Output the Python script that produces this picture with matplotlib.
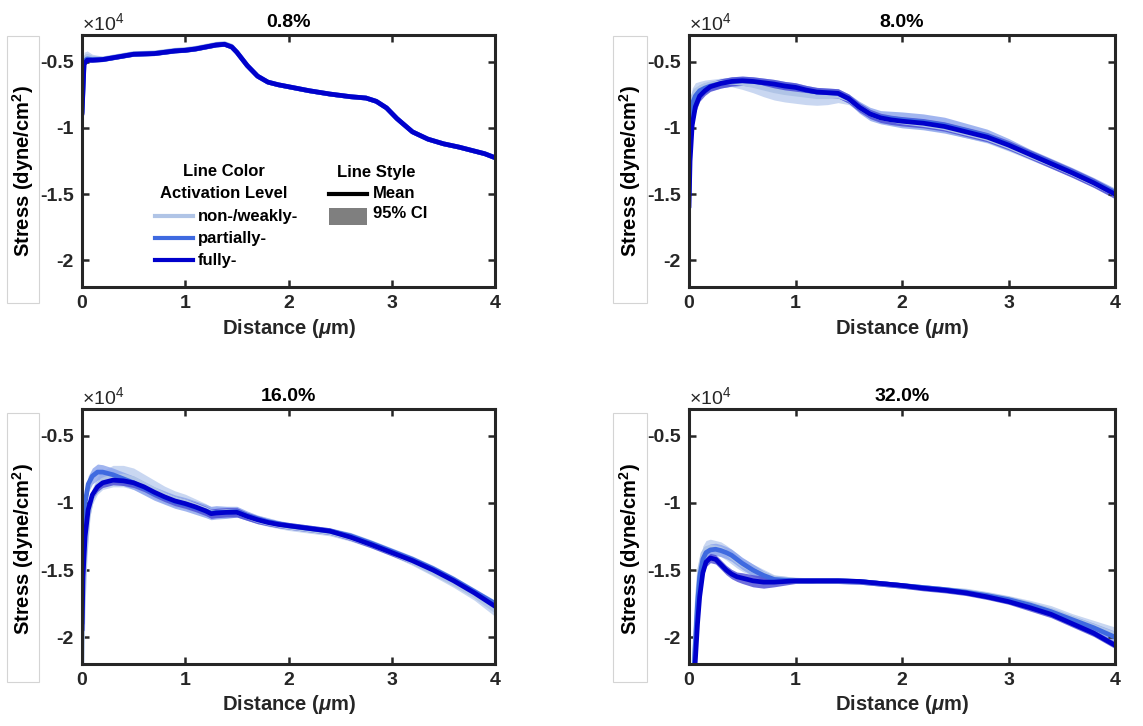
import matplotlib
matplotlib.use("Agg")
import matplotlib.pyplot as plt
from matplotlib.patches import Rectangle
from matplotlib.lines import Line2D
from matplotlib.ticker import FixedLocator, FixedFormatter

plt.rcParams['font.family'] = ['Liberation Sans', 'DejaVu Sans']
plt.rcParams['font.weight'] = 'bold'
plt.rcParams['mathtext.fontset'] = 'custom'
plt.rcParams['mathtext.rm'] = 'Liberation Sans'
plt.rcParams['mathtext.it'] = 'Liberation Sans:italic:bold'
plt.rcParams['mathtext.bf'] = 'Liberation Sans:bold'
plt.rcParams['mathtext.default'] = 'regular'

# ---------------- data (stress in units of 1e4 dyne/cm^2) ----------------
titles = ["0.8%", "8.0%", "16.0%", "32.0%"]
levels = ["non-/weakly-", "partially-", "fully-"]
level_colors = ["#b0c4e6", "#3f6ae0", "#0000cc"]
ci_colors = ["#bccdee", "#8aa3ec", "#4a4ad4"]

# Panel 0.8%
x1 = [0, 0.02, 0.05, 0.1, 0.2, 0.35, 0.5, 0.7, 0.9, 1.0, 1.1, 1.2, 1.3, 1.38, 1.45, 1.5,
      1.6, 1.7, 1.8, 1.9, 2.0, 2.2, 2.4, 2.6, 2.75, 2.85, 2.95, 3.05, 3.2, 3.35, 3.5, 3.65,
      3.8, 3.9, 4.0]
m1_weak = [-0.88, -0.48, -0.46, -0.475, -0.48, -0.46, -0.44, -0.435, -0.415, -0.41, -0.40,
           -0.385, -0.37, -0.365, -0.385, -0.43, -0.53, -0.61, -0.655, -0.675, -0.69, -0.72,
           -0.745, -0.765, -0.775, -0.80, -0.85, -0.93, -1.03, -1.085, -1.12, -1.145, -1.175,
           -1.195, -1.225]
m1_part = [-0.89, -0.50, -0.48, -0.485, -0.485, -0.465, -0.445, -0.44, -0.42, -0.415, -0.405,
           -0.39, -0.375, -0.37, -0.39, -0.43, -0.53, -0.61, -0.655, -0.675, -0.69, -0.72,
           -0.745, -0.765, -0.775, -0.80, -0.85, -0.93, -1.03, -1.085, -1.12, -1.145, -1.175,
           -1.195, -1.225]
m1_full = [-0.90, -0.52, -0.49, -0.49, -0.485, -0.465, -0.445, -0.44, -0.42, -0.415, -0.405,
           -0.39, -0.375, -0.37, -0.39, -0.43, -0.53, -0.61, -0.655, -0.675, -0.69, -0.72,
           -0.745, -0.765, -0.775, -0.80, -0.85, -0.93, -1.03, -1.085, -1.12, -1.145, -1.175,
           -1.195, -1.225]
c1_weak = [0.04, 0.05, 0.04, 0.03, 0.02, 0.02, 0.02, 0.02, 0.02, 0.02, 0.02, 0.02, 0.02, 0.02,
           0.02, 0.02, 0.02, 0.02, 0.015, 0.015, 0.015, 0.015, 0.015, 0.015, 0.015, 0.015,
           0.015, 0.015, 0.015, 0.015, 0.015, 0.015, 0.015, 0.015, 0.015]
c1_part = [0.02] * 4 + [0.015] * 31
c1_full = [0.015] * 35

# Panel 8.0%
x2 = [0, 0.01, 0.03, 0.06, 0.1, 0.15, 0.2, 0.3, 0.4, 0.5, 0.6, 0.7, 0.8, 0.9, 1.0, 1.1, 1.2,
      1.3, 1.4, 1.5, 1.6, 1.7, 1.8, 1.9, 2.0, 2.2, 2.4, 2.6, 2.8, 3.0, 3.2, 3.4, 3.6, 3.8, 4.0]
m2_weak = [-1.40, -0.95, -0.78, -0.72, -0.70, -0.68, -0.67, -0.66, -0.655, -0.665, -0.68,
           -0.70, -0.72, -0.735, -0.745, -0.755, -0.765, -0.765, -0.76, -0.785, -0.845, -0.895,
           -0.925, -0.94, -0.955, -0.975, -1.0, -1.04, -1.08, -1.14, -1.21, -1.275, -1.345,
           -1.42, -1.50]
m2_part = [-1.50, -1.00, -0.82, -0.76, -0.72, -0.70, -0.685, -0.665, -0.65, -0.645, -0.65,
           -0.66, -0.67, -0.685, -0.695, -0.715, -0.73, -0.735, -0.74, -0.78, -0.845, -0.895,
           -0.92, -0.93, -0.94, -0.955, -0.98, -1.02, -1.06, -1.125, -1.195, -1.265,
           -1.335, -1.41, -1.49]
m2_full = [-1.60, -1.25, -0.98, -0.84, -0.76, -0.72, -0.69, -0.665, -0.65, -0.645, -0.65,
           -0.66, -0.67, -0.685, -0.695, -0.715, -0.73, -0.735, -0.74, -0.78, -0.845, -0.895,
           -0.925, -0.94, -0.95, -0.965, -0.99, -1.03, -1.07, -1.13, -1.20, -1.27, -1.34,
           -1.415, -1.50]
c2_weak = [0.10, 0.10, 0.08, 0.06, 0.05, 0.04, 0.035, 0.035, 0.035, 0.045, 0.055, 0.065, 0.07,
           0.07, 0.07, 0.07, 0.065, 0.06, 0.05, 0.04, 0.035, 0.035, 0.035, 0.035, 0.035, 0.035,
           0.035, 0.035, 0.035, 0.035, 0.03, 0.03, 0.025, 0.025, 0.03]
c2_part = [0.08, 0.08, 0.06, 0.05, 0.045, 0.04, 0.035, 0.035, 0.035, 0.035, 0.035, 0.035,
           0.035, 0.035, 0.035, 0.035, 0.035, 0.035, 0.035, 0.035, 0.045, 0.05, 0.05, 0.055,
           0.06, 0.06, 0.06, 0.055, 0.05, 0.045, 0.035, 0.035, 0.035, 0.035, 0.035]
c2_full = [0.06, 0.06, 0.05, 0.045, 0.04, 0.035, 0.035, 0.035, 0.035, 0.035, 0.035, 0.035,
           0.035, 0.035, 0.035, 0.035, 0.035, 0.035, 0.035, 0.035, 0.035, 0.035, 0.035, 0.035,
           0.035, 0.035, 0.035, 0.035, 0.035, 0.035, 0.035, 0.035, 0.035, 0.035, 0.035]

# Panel 16.0%
x3 = [0, 0.01, 0.03, 0.06, 0.1, 0.15, 0.2, 0.3, 0.4, 0.5, 0.6, 0.7, 0.8, 0.9, 1.0, 1.1, 1.2,
      1.25, 1.3, 1.4, 1.5, 1.6, 1.7, 1.8, 1.9, 2.0, 2.2, 2.4, 2.6, 2.8, 3.0, 3.2, 3.4, 3.6,
      3.8, 4.0]
m3_weak = [-2.20, -1.80, -1.40, -1.10, -0.95, -0.87, -0.83, -0.80, -0.80, -0.82, -0.86,
           -0.90, -0.94, -0.97, -0.99, -1.02, -1.05, -1.07, -1.07, -1.065, -1.07, -1.10,
           -1.13, -1.15, -1.165, -1.18, -1.20, -1.22, -1.26, -1.31, -1.37, -1.44, -1.52,
           -1.60, -1.69, -1.80]
m3_part = [-1.90, -1.30, -1.00, -0.86, -0.80, -0.77, -0.77, -0.79, -0.82, -0.85, -0.89,
           -0.93, -0.96, -0.99, -1.01, -1.035, -1.06, -1.075, -1.07, -1.07, -1.065, -1.095,
           -1.12, -1.14, -1.155, -1.17, -1.19, -1.21, -1.245, -1.30, -1.36, -1.42, -1.49,
           -1.57, -1.66, -1.75]
m3_full = [-1.95, -1.55, -1.25, -1.05, -0.94, -0.88, -0.85, -0.83, -0.835, -0.85, -0.88,
           -0.92, -0.955, -0.985, -1.005, -1.03, -1.06, -1.08, -1.075, -1.07, -1.07, -1.10,
           -1.125, -1.145, -1.16, -1.17, -1.19, -1.21, -1.255, -1.31, -1.37, -1.43, -1.50,
           -1.58, -1.67, -1.77]
c3_weak = [0.05, 0.06, 0.06, 0.06, 0.06, 0.065, 0.07, 0.08, 0.08, 0.08, 0.075, 0.07, 0.065,
           0.06, 0.055, 0.05, 0.045, 0.04, 0.04, 0.035, 0.03, 0.03, 0.025, 0.025, 0.025,
           0.025, 0.025, 0.025, 0.025, 0.025, 0.025, 0.025, 0.025, 0.03, 0.035, 0.045]
c3_part = [0.06, 0.06, 0.06, 0.06, 0.06, 0.06, 0.055, 0.05, 0.05, 0.05, 0.05, 0.05, 0.05,
           0.05, 0.05, 0.05, 0.05, 0.05, 0.05, 0.045, 0.04, 0.035, 0.03, 0.03, 0.025, 0.025,
           0.025, 0.025, 0.025, 0.025, 0.025, 0.025, 0.025, 0.025, 0.025, 0.025]
c3_full = [0.04, 0.04, 0.04, 0.04, 0.035, 0.035, 0.035, 0.035, 0.035, 0.035, 0.035, 0.035,
           0.035, 0.035, 0.035, 0.035, 0.035, 0.035, 0.035, 0.035, 0.035, 0.03, 0.03, 0.025,
           0.025, 0.025, 0.025, 0.025, 0.025, 0.025, 0.025, 0.025, 0.025, 0.025, 0.025, 0.025]

# Panel 32.0%
x4 = [0.02, 0.05, 0.08, 0.1, 0.13, 0.16, 0.2, 0.25, 0.3, 0.35, 0.4, 0.45, 0.5, 0.6, 0.7, 0.8,
      1.0, 1.2, 1.4, 1.6, 1.8, 2.0, 2.2, 2.4, 2.6, 2.8, 3.0, 3.2, 3.4, 3.6, 3.8, 4.0]
m4_weak = [-2.80, -2.15, -1.70, -1.50, -1.38, -1.34, -1.33, -1.335, -1.345, -1.37, -1.40,
           -1.43, -1.46, -1.50, -1.53, -1.56, -1.575, -1.58, -1.58, -1.585, -1.60, -1.615,
           -1.63, -1.645, -1.66, -1.685, -1.715, -1.755, -1.80, -1.86, -1.92, -1.98]
m4_part = [-2.80, -2.20, -1.75, -1.55, -1.42, -1.37, -1.35, -1.345, -1.355, -1.37, -1.39,
           -1.42, -1.45, -1.50, -1.54, -1.57, -1.58, -1.58, -1.58, -1.585, -1.60, -1.615,
           -1.63, -1.645, -1.665, -1.69, -1.72, -1.76, -1.81, -1.87, -1.93, -2.00]
m4_full = [-2.80, -2.30, -1.90, -1.70, -1.52, -1.44, -1.41, -1.42, -1.46, -1.50, -1.53,
           -1.55, -1.56, -1.58, -1.59, -1.59, -1.58, -1.58, -1.58, -1.585, -1.60, -1.615,
           -1.635, -1.65, -1.67, -1.70, -1.735, -1.78, -1.83, -1.90, -1.97, -2.06]
c4_weak = [0.08, 0.08, 0.07, 0.06, 0.06, 0.06, 0.06, 0.055, 0.055, 0.055, 0.055, 0.055, 0.05,
           0.045, 0.035, 0.025, 0.02, 0.02, 0.02, 0.02, 0.02, 0.02, 0.02, 0.02, 0.025,
           0.025, 0.025, 0.03, 0.035, 0.035, 0.045, 0.055]
c4_part = [0.06, 0.06, 0.05, 0.05, 0.045, 0.045, 0.045, 0.045, 0.045, 0.045, 0.045, 0.045,
           0.045, 0.045, 0.035, 0.025, 0.02, 0.02, 0.02, 0.02, 0.02, 0.02, 0.02, 0.02, 0.02,
           0.02, 0.025, 0.025, 0.025, 0.03, 0.035, 0.045]
c4_full = [0.05, 0.05, 0.045, 0.04, 0.035, 0.035, 0.035, 0.035, 0.035, 0.035, 0.035, 0.035,
           0.04, 0.045, 0.045, 0.035, 0.02, 0.02, 0.02, 0.02, 0.02, 0.02, 0.02, 0.02, 0.02,
           0.02, 0.02, 0.025, 0.025, 0.025, 0.025, 0.025]

panels = [
    (x1, [m1_weak, m1_part, m1_full], [c1_weak, c1_part, c1_full]),
    (x2, [m2_weak, m2_part, m2_full], [c2_weak, c2_part, c2_full]),
    (x3, [m3_weak, m3_part, m3_full], [c3_weak, c3_part, c3_full]),
    (x4, [m4_weak, m4_part, m4_full], [c4_weak, c4_part, c4_full]),
]

yticks = [-2, -1.5, -1, -0.5]
ytick_labels = ["-2", "-1.5", "-1", "-0.5"]
xticks = [0, 1, 2, 3, 4]
xtick_labels = ["0", "1", "2", "3", "4"]

# ---------------- figure ----------------
W, H = 1143, 726
fig = plt.figure(figsize=(W / 100, H / 100), dpi=100)
dark = "#262626"

def fx(px):
    return px / W

def fy(py):
    return 1 - py / H

# axes rects in pixel: (left, top, right, bottom)
rects = [(82, 35, 495, 287), (689, 35, 1115, 287),
         (82, 409, 495, 664), (689, 409, 1115, 664)]
boxes = [(7, 36, 39, 303), (613, 36, 647, 303), (7, 413, 39, 682), (613, 413, 647, 682)]

for i, (xs, means, cis) in enumerate(panels):
    l, t, r, b = rects[i]
    ax = fig.add_axes([fx(l), fy(b), fx(r) - fx(l), (b - t) / H])
    for m, c, col in zip(means, cis, ci_colors):
        lo = [mv - cv for mv, cv in zip(m, c)]
        hi = [mv + cv for mv, cv in zip(m, c)]
        ax.fill_between(xs, lo, hi, color=col, alpha=0.8, lw=0)
    for m, col in zip(means, level_colors):
        ax.plot(xs, m, color=col, lw=3.4, solid_joinstyle='round',
                solid_capstyle='round')
    ax.set_xlim(0, 4)
    ax.set_ylim(-2.2, -0.3)
    ax.xaxis.set_major_locator(FixedLocator(xticks))
    ax.xaxis.set_major_formatter(FixedFormatter(xtick_labels))
    ax.yaxis.set_major_locator(FixedLocator(yticks))
    ax.yaxis.set_major_formatter(FixedFormatter(ytick_labels))
    ax.tick_params(direction='in', length=5, width=1.8, top=True, right=True,
                   colors=dark, labelsize=14, pad=6)
    for lab in ax.get_xticklabels() + ax.get_yticklabels():
        lab.set_fontweight('bold')
    for sp in ax.spines.values():
        sp.set_linewidth(2.2)
        sp.set_color(dark)
    ax.set_title(titles[i], fontsize=14, fontweight='bold', color='black', pad=6)
    ax.set_xlabel('Distance ($\\mathit{\\mu}$m)', fontsize=14.5, fontweight='bold',
                  color=dark, labelpad=3)
    ax.text(0.0, 1.005, '×10$^{4}$', transform=ax.transAxes, ha='left', va='bottom',
            fontsize=14, fontweight='normal', color=dark)
    # y label box
    bl, bt, br, bb = boxes[i]
    fig.patches.append(Rectangle((fx(bl), fy(bb)), fx(br) - fx(bl), (bb - bt) / H,
                                 transform=fig.transFigure, facecolor='white',
                                 edgecolor='#d4d4d4', lw=0.8))
    fig.text(fx((bl + br) / 2), fy((bt + bb) / 2 + 2), 'Stress (dyne/cm$^{2}$)',
             rotation=90, ha='center', va='center', fontsize=14.5, fontweight='bold',
             color='black')

    if i == 0:
        tr = fig.transFigure
        fs = 12
        fig.text(fx(224), fy(172), 'Line Color', ha='center', va='center', fontsize=fs,
                 fontweight='bold', transform=tr)
        fig.text(fx(224), fy(194), 'Activation Level', ha='center', va='center',
                 fontsize=fs, fontweight='bold', transform=tr)
        for k, (lab, col) in enumerate(zip(levels, level_colors)):
            yy = 216 + 22 * k
            fig.lines.append(Line2D([fx(155), fx(193)], [fy(yy), fy(yy)], color=col,
                                    lw=3, transform=tr))
            fig.text(fx(198), fy(yy), lab, ha='left', va='center', fontsize=fs,
                     fontweight='bold', transform=tr)
        fig.text(fx(376), fy(172), 'Line Style', ha='center', va='center', fontsize=fs,
                 fontweight='bold', transform=tr)
        fig.lines.append(Line2D([fx(329), fx(367)], [fy(194), fy(194)], color='black',
                                lw=3, transform=tr))
        fig.text(fx(373), fy(194), 'Mean', ha='left', va='center', fontsize=fs,
                 fontweight='bold', transform=tr)
        fig.patches.append(Rectangle((fx(329), fy(225)), fx(367) - fx(329), 17 / H,
                                     transform=tr, facecolor='#7f7f7f', edgecolor='none'))
        fig.text(fx(373), fy(214), '95% CI', ha='left', va='center', fontsize=fs,
                 fontweight='bold', transform=tr)

fig.savefig('out.png', dpi=100, facecolor='white')
